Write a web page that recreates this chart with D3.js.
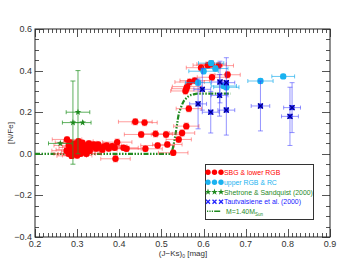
<!DOCTYPE html>
<html>
<head>
<meta charset="utf-8">
<script src="https://cdn.jsdelivr.net/npm/d3@7"></script>
<style>
  body { margin: 0; background: #fff; }
  svg { display: block; font-family: "Liberation Sans", Arial, sans-serif; }
</style>
</head>
<body>
<svg id="chart" width="347" height="278"></svg>
<script>
// [x, y, xerr, yerr]
var sbgLowerRgb = [
  [0.276, 0.069, 0.035, 0.012], [0.280, 0.040, 0.035, 0.012], [0.285, 0.020, 0.035, 0.012],
  [0.290, 0.000, 0.035, 0.012], [0.292, 0.030, 0.035, 0.012], [0.295, 0.050, 0.035, 0.012],
  [0.298, 0.010, 0.035, 0.012], [0.300, 0.035, 0.035, 0.012], [0.303, 0.060, 0.035, 0.012],
  [0.305, 0.020, 0.035, 0.012], [0.308, 0.000, 0.035, 0.012], [0.310, 0.045, 0.035, 0.012],
  [0.312, 0.053, 0.035, 0.012], [0.315, 0.025, 0.035, 0.012], [0.318, 0.010, 0.035, 0.012],
  [0.320, 0.040, 0.035, 0.012], [0.325, 0.030, 0.035, 0.012], [0.328, 0.050, 0.035, 0.012],
  [0.330, 0.015, 0.035, 0.012], [0.335, 0.035, 0.035, 0.012], [0.340, 0.045, 0.035, 0.012],
  [0.345, 0.025, 0.035, 0.012], [0.350, 0.045, 0.035, 0.012], [0.355, 0.030, 0.035, 0.012],
  [0.360, 0.020, 0.035, 0.012], [0.365, 0.035, 0.035, 0.012], [0.370, 0.040, 0.035, 0.012],
  [0.375, 0.025, 0.035, 0.012], [0.280, 0.000, 0.035, 0.012], [0.287, -0.010, 0.035, 0.012],
  [0.300, -0.008, 0.035, 0.012], [0.275, 0.015, 0.035, 0.012], [0.283, 0.055, 0.035, 0.012],
  [0.322, 0.000, 0.035, 0.012],
  [0.383, 0.037, 0.035, 0.012], [0.389, 0.029, 0.035, 0.012], [0.395, 0.056, 0.035, 0.015],
  [0.391, -0.024, 0.035, 0.015], [0.410, 0.029, 0.035, 0.012], [0.417, 0.024, 0.035, 0.012],
  [0.438, 0.154, 0.040, 0.015], [0.460, 0.150, 0.030, 0.015], [0.452, 0.093, 0.040, 0.015],
  [0.462, 0.024, 0.040, 0.012], [0.486, 0.096, 0.040, 0.015], [0.491, 0.040, 0.040, 0.012],
  [0.511, 0.093, 0.035, 0.015], [0.514, 0.045, 0.035, 0.012], [0.528, 0.005, 0.035, 0.012],
  [0.541, 0.069, 0.030, 0.015], [0.549, 0.100, 0.030, 0.015], [0.559, 0.133, 0.030, 0.015],
  [0.565, 0.217, 0.030, 0.015], [0.557, 0.302, 0.035, 0.015], [0.559, 0.313, 0.035, 0.015],
  [0.561, 0.323, 0.035, 0.015], [0.567, 0.345, 0.035, 0.015], [0.579, 0.352, 0.035, 0.015],
  [0.594, 0.414, 0.035, 0.015], [0.610, 0.426, 0.035, 0.015], [0.619, 0.431, 0.035, 0.015],
  [0.636, 0.424, 0.035, 0.015], [0.620, 0.368, 0.035, 0.015], [0.657, 0.380, 0.030, 0.015]
];

var upperRgbRc = [
  [0.587, 0.342, 0.030, 0.012], [0.600, 0.397, 0.035, 0.012], [0.618, 0.436, 0.030, 0.012],
  [0.628, 0.410, 0.030, 0.012], [0.648, 0.326, 0.030, 0.012], [0.654, 0.320, 0.030, 0.012],
  [0.735, 0.350, 0.030, 0.010], [0.789, 0.372, 0.027, 0.010]
];

var shetroneSandquist = [
  [0.302, 0.200, 0.028, 0.200], [0.290, 0.150, 0.025, 0.200],
  [0.313, 0.150, 0.020, 0.000], [0.260, 0.050, 0.028, 0.000]
];

var tautvaisiene = [
  [0.587, 0.240, 0.020, 0.120], [0.597, 0.310, 0.020, 0.100], [0.617, 0.200, 0.020, 0.100],
  [0.638, 0.281, 0.020, 0.100], [0.639, 0.345, 0.020, 0.100], [0.654, 0.342, 0.020, 0.120],
  [0.654, 0.210, 0.020, 0.120], [0.735, 0.230, 0.022, 0.120], [0.810, 0.222, 0.020, 0.120],
  [0.805, 0.180, 0.020, 0.140]
];

// model track M = 1.40 Msun
var modelTrack = [
  [0.200, 0.000], [0.520, 0.000], [0.525, 0.013], [0.532, 0.077], [0.537, 0.140],
  [0.541, 0.190], [0.545, 0.215], [0.551, 0.246], [0.558, 0.265], [0.565, 0.278],
  [0.575, 0.285], [0.585, 0.289], [0.664, 0.289]
];

var xTicks = [0.2, 0.3, 0.4, 0.5, 0.6, 0.7, 0.8, 0.9];
var yTicks = [-0.4, -0.2, 0.0, 0.2, 0.4, 0.6];

var svg = d3.select('#chart');
var plotLeft = 35, plotRight = 330, plotTop = 29, plotBottom = 237;

var x = d3.scaleLinear().domain([0.2, 0.9]).range([plotLeft, plotRight]);
var y = d3.scaleLinear().domain([-0.4, 0.6]).range([plotBottom, plotTop]);

var fmt = function(d) { return d === 0 ? '0.0' : d3.format('.1f')(d).replace('-', '\u2212'); };

// minor ticks
var xMinor = d3.range(20, 91).map(function(d) { return d / 100; });
var yMinor = d3.range(-8, 13).map(function(d) { return d / 20; });

var ticks = svg.append('g').attr('stroke', '#555').attr('stroke-width', 1);
xMinor.forEach(function(d) {
  var major = Math.abs(d * 10 - Math.round(d * 10)) < 1e-6;
  var len = major ? 8 : 4;
  var px = Math.round(x(d)) + 0.5;
  ticks.append('line').attr('x1', px).attr('x2', px).attr('y1', plotBottom).attr('y2', plotBottom - len);
  ticks.append('line').attr('x1', px).attr('x2', px).attr('y1', plotTop).attr('y2', plotTop + len);
});
yMinor.forEach(function(d) {
  var major = Math.abs(d * 5 - Math.round(d * 5)) < 1e-6;
  var len = major ? 8 : 4;
  var py = Math.round(y(d)) + 0.5;
  ticks.append('line').attr('x1', plotLeft).attr('x2', plotLeft + len).attr('y1', py).attr('y2', py);
  ticks.append('line').attr('x1', plotRight).attr('x2', plotRight - len).attr('y1', py).attr('y2', py);
});

svg.append('rect')
  .attr('x', plotLeft).attr('y', plotTop)
  .attr('width', plotRight - plotLeft).attr('height', plotBottom - plotTop)
  .attr('fill', 'none').attr('stroke', '#222').attr('stroke-width', 1);

// tick labels
svg.append('g').selectAll('text').data(xTicks).enter().append('text')
  .attr('x', function(d) { return x(d); })
  .attr('y', plotBottom + 10)
  .attr('text-anchor', 'middle')
  .attr('font-size', 9).attr('fill', '#333')
  .text(fmt);

svg.append('g').selectAll('text').data(yTicks).enter().append('text')
  .attr('x', plotLeft - 3)
  .attr('y', function(d) { return y(d) + 3; })
  .attr('text-anchor', 'end')
  .attr('font-size', 9).attr('fill', '#333')
  .text(fmt);

// axis labels
var xl = svg.append('text')
  .attr('x', 183).attr('y', 256)
  .attr('text-anchor', 'middle')
  .attr('font-size', 8).attr('fill', '#333');
xl.append('tspan').text('(J\u2212Ks)');
xl.append('tspan').attr('font-size', 5).attr('dy', 2).text('0');
xl.append('tspan').attr('dy', -2).text(' [mag]');

svg.append('text')
  .attr('transform', 'translate(13,' + 133 + ') rotate(-90)')
  .attr('text-anchor', 'middle')
  .attr('font-size', 8).attr('fill', '#333')
  .text('[N/Fe]');

var plot = svg.append('g');

// model line
var line = d3.line()
  .x(function(d) { return x(d[0]); })
  .y(function(d) { return y(d[1]); })
  .curve(d3.curveMonotoneX);

plot.append('path')
  .datum(modelTrack)
  .attr('d', line)
  .attr('fill', 'none')
  .attr('stroke', '#1f8a1f')
  .attr('stroke-width', 2.2)
  .attr('stroke-dasharray', '5,1.5,1.5,1.5,1.5,1.5,1.5,1.5');

function errorBars(data, color) {
  var g = plot.append('g').attr('stroke', color).attr('stroke-width', 1);
  data.forEach(function(d) {
    var cx = x(d[0]), cy = y(d[1]);
    if (d[2] > 0) {
      g.append('line').attr('x1', x(d[0] - d[2])).attr('x2', x(d[0] + d[2])).attr('y1', cy).attr('y2', cy);
      g.append('line').attr('x1', x(d[0] - d[2])).attr('x2', x(d[0] - d[2])).attr('y1', cy - 2).attr('y2', cy + 2);
      g.append('line').attr('x1', x(d[0] + d[2])).attr('x2', x(d[0] + d[2])).attr('y1', cy - 2).attr('y2', cy + 2);
    }
    if (d[3] > 0) {
      g.append('line').attr('x1', cx).attr('x2', cx).attr('y1', y(d[1] - d[3])).attr('y2', y(d[1] + d[3]));
      g.append('line').attr('x1', cx - 2.5).attr('x2', cx + 2.5).attr('y1', y(d[1] - d[3])).attr('y2', y(d[1] - d[3]));
      g.append('line').attr('x1', cx - 2.5).attr('x2', cx + 2.5).attr('y1', y(d[1] + d[3])).attr('y2', y(d[1] + d[3]));
    }
  });
}

function circles(g, data, color, r) {
  g.selectAll('circle.pt').data(data).enter().append('circle')
    .attr('cx', function(d) { return x(d[0]); })
    .attr('cy', function(d) { return y(d[1]); })
    .attr('r', r).attr('fill', color);
}

var star = d3.symbol().type(d3.symbolStar).size(14);
function stars(g, data, color) {
  g.selectAll('path.pt').data(data).enter().append('path')
    .attr('d', star)
    .attr('transform', function(d) { return 'translate(' + x(d[0]) + ',' + y(d[1]) + ')'; })
    .attr('fill', color);
}

function crosses(g, data, color) {
  var pts = g.selectAll('g.pt').data(data).enter().append('g')
    .attr('transform', function(d) { return 'translate(' + x(d[0]) + ',' + y(d[1]) + ')'; });
  pts.append('rect').attr('x', -2.5).attr('y', -2.5).attr('width', 5).attr('height', 5)
    .attr('fill', color).attr('opacity', 0.9);
  pts.append('path').attr('d', 'M-2.5,-2.5L2.5,2.5M-2.5,2.5L2.5,-2.5')
    .attr('stroke', '#00008b').attr('stroke-width', 1.2);
}

errorBars(sbgLowerRgb, 'rgba(255,60,60,0.5)');
circles(plot.append('g'), sbgLowerRgb, '#ff0000', 3.2);

errorBars(shetroneSandquist, 'rgba(40,150,40,0.75)');
stars(plot.append('g'), shetroneSandquist, '#1f8a1f');

errorBars(upperRgbRc, 'rgba(20,170,235,0.65)');
circles(plot.append('g'), upperRgbRc, '#1ab2f0', 3.2);

errorBars(tautvaisiene, 'rgba(60,60,255,0.55)');
crosses(plot.append('g'), tautvaisiene, '#1a1aff');

// legend
var legend = svg.append('g');
legend.append('rect')
  .attr('x', 205.5).attr('y', 164.5).attr('width', 108).attr('height', 55)
  .attr('fill', '#fff').attr('stroke', '#333').attr('stroke-width', 1);

var legendItems = [
  {label: 'SBG & lower RGB', color: '#ff0000', kind: 'circle'},
  {label: 'upper RGB & RC', color: '#1ab2f0', kind: 'circle'},
  {label: 'Shetrone & Sandquist (2000)', color: '#1f8a1f', kind: 'star'},
  {label: 'Tautvaisiene et al. (2000)', color: '#2020ff', kind: 'x'}
];
var rowY = [172.3, 182.2, 192, 201.8, 211.3];

legendItems.forEach(function(item, i) {
  var g = legend.append('g').attr('transform', 'translate(0,' + rowY[i] + ')');
  [208, 214.5, 221].forEach(function(mx) {
    if (item.kind === 'circle') {
      g.append('circle').attr('cx', mx).attr('cy', 0).attr('r', 2.7).attr('fill', item.color);
    } else if (item.kind === 'star') {
      g.append('path').attr('d', star).attr('transform', 'translate(' + mx + ',0)').attr('fill', item.color);
    } else {
      g.append('path').attr('d', 'M' + (mx - 2) + ',-2L' + (mx + 2) + ',2M' + (mx - 2) + ',2L' + (mx + 2) + ',-2')
        .attr('stroke', item.color).attr('stroke-width', 1.3);
    }
  });
  g.append('text').attr('x', 224).attr('y', 2.5)
    .attr('font-size', 6.9).attr('fill', item.color).text(item.label);
});

var lastRow = legend.append('g').attr('transform', 'translate(0,' + rowY[4] + ')');
lastRow.append('line').attr('x1', 207).attr('x2', 222).attr('y1', 0).attr('y2', 0)
  .attr('stroke', '#1f8a1f').attr('stroke-width', 1.6)
  .attr('stroke-dasharray', '1.2,1.2,1.2,1.2,1.2,1.2,6,2');
var mt = lastRow.append('text').attr('x', 226).attr('y', 2.5)
  .attr('font-size', 6.9).attr('fill', '#1f8a1f');
mt.append('tspan').text('M=1.40M');
mt.append('tspan').attr('font-size', 4.5).attr('dy', 1.8).text('Sun');
</script>
</body>
</html>
